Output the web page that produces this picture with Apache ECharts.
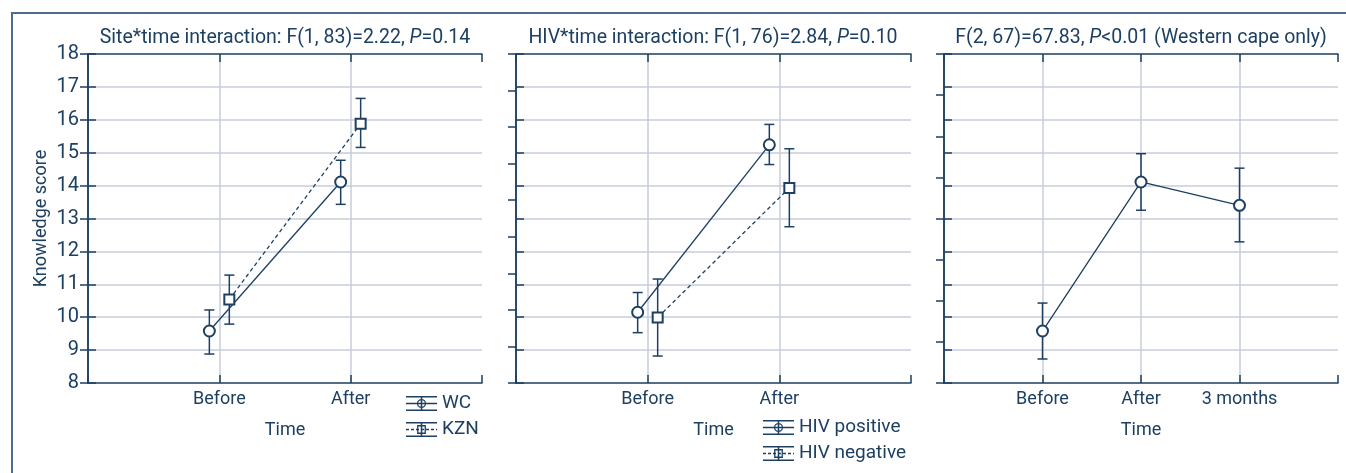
<!DOCTYPE html>
<html>
<head>
<meta charset="utf-8">
<script src="https://cdn.jsdelivr.net/npm/echarts@6/dist/echarts.min.js"></script>
<style>
  html, body { margin: 0; padding: 0; background: #fff; }
  #chart { width: 1346px; height: 473px; }
</style>
</head>
<body>
<div id="chart"></div>
<script>
// tick labels
const timeTwo = ['Before', 'After']
const timeThree = ['Before', 'After', '3 months']

// Site * time
const wcMean = [9.58, 14.11]
const wcLow = [8.88, 13.43]
const wcHigh = [10.22, 14.77]
const kznMean = [10.54, 15.88]
const kznLow = [9.79, 15.16]
const kznHigh = [11.28, 16.65]

// HIV * time
const hivPosMean = [10.15, 15.24]
const hivPosLow = [9.53, 14.64]
const hivPosHigh = [10.75, 15.86]
const hivNegMean = [9.99, 13.93]
const hivNegLow = [8.82, 12.75]
const hivNegHigh = [11.16, 15.12]

// Western cape only
const wcOnlyMean = [9.58, 14.11, 13.40]
const wcOnlyLow = [8.73, 13.25, 12.29]
const wcOnlyHigh = [10.43, 14.97, 14.53]

const NAVY = '#1d3f62'
const GRID = '#c6cddb'
const FONT = 'Roboto'
const DODGE = 0.076

const chart = echarts.init(document.getElementById('chart'))

const rect = (x, y, w, h) => `M${x} ${y}h${w}v${h}h${-w}Z`
const ring = (cx, cy, r, t) =>
  `M${cx - r} ${cy}A${r} ${r} 0 1 1 ${cx + r} ${cy}A${r} ${r} 0 1 1 ${cx - r} ${cy}Z` +
  `M${cx - r + t} ${cy}A${r - t} ${r - t} 0 1 0 ${cx + r - t} ${cy}A${r - t} ${r - t} 0 1 0 ${cx - r + t} ${cy}Z`
const box = (cx, cy, r, t) =>
  rect(cx - r, cy - r, 2 * r, 2 * r) +
  `M${cx - r + t} ${cy - r + t}v${2 * (r - t)}h${2 * (r - t)}v${-2 * (r - t)}Z`
const frame = rect(0, 0, 31, 1.5) + rect(0, 13.5, 31, 1.5) + rect(14.75, 0, 1.5, 15)
const solidMid = rect(0, 6.75, 31, 1.5)
let dashMid = ''
for (let x = 0; x < 31; x += 5) dashMid += rect(x, 6.75, Math.min(3, 31 - x), 1.5)
const iconCircle = 'path://' + frame + solidMid + ring(15.5, 7.5, 4.6, 1.3)
const iconSquare = 'path://' + frame + dashMid + box(15.5, 7.5, 4.4, 1.3)

const label = (arr) => (v) => arr[v - 1] || ''

const xPair = (labels, gridIndex, max, withName) => [
  {
    type: 'value', gridIndex, min: 0, max, interval: 1, position: 'bottom',
    name: withName ? 'Time' : '', nameLocation: 'middle', nameGap: 38,
    nameTextStyle: { color: NAVY, fontFamily: FONT, fontSize: 18 },
    axisLine: { show: true, lineStyle: { color: NAVY, width: 1.5 } },
    axisTick: { inside: true, length: 8, lineStyle: { color: NAVY, width: 1.5 } },
    axisLabel: { formatter: label(labels), color: NAVY, fontFamily: FONT, fontSize: 18, margin: 7 },
    splitLine: { show: true, showMinLine: false, showMaxLine: false, lineStyle: { color: GRID, width: 1.5 } },
  },
  {
    type: 'value', gridIndex, min: 0, max, interval: 1, position: 'top',
    axisLine: { show: true, lineStyle: { color: NAVY, width: 1.5 } },
    axisTick: { inside: true, length: 8, lineStyle: { color: NAVY, width: 1.5 } },
    axisLabel: { show: false },
    splitLine: { show: false },
  },
]

const yPair = (gridIndex, withLabels, rightMax) => [
  {
    type: 'value', gridIndex, min: 8, max: 18, interval: 1, position: 'left',
    name: withLabels ? 'Knowledge score' : '', nameLocation: 'middle', nameGap: 38,
    nameTextStyle: { color: NAVY, fontFamily: FONT, fontSize: 18 },
    axisLine: { show: true, lineStyle: { color: NAVY, width: 1.5 } },
    axisTick: { inside: true, length: 8, lineStyle: { color: NAVY, width: 1.5 } },
    axisLabel: { show: withLabels, color: NAVY, fontFamily: FONT, fontSize: 20, margin: 9 },
    splitLine: { show: true, showMinLine: false, showMaxLine: false, lineStyle: { color: GRID, width: 1.5 } },
  },
  {
    type: 'value', gridIndex, min: rightMax ? 0 : 8, max: rightMax || 18, interval: 1, position: 'right',
    axisLine: { show: true, lineStyle: { color: NAVY, width: 1.5 } },
    axisTick: { inside: true, length: 8, lineStyle: { color: NAVY, width: 1.5 } },
    axisLabel: { show: false },
    splitLine: { show: false },
  },
]

const lineSeries = (name, axis, offset, mean, dashed) => ({
  type: 'line', name, xAxisIndex: axis, yAxisIndex: axis,
  data: mean.map((v, i) => [i + 1 + offset, v]),
  symbol: dashed ? 'emptyRect' : 'emptyCircle',
  symbolSize: dashed ? 10 : 11,
  itemStyle: { color: NAVY, borderWidth: 1.3 },
  lineStyle: { color: NAVY, width: 1.3, type: dashed ? [4, 3] : 'solid' },
  z: 4, silent: true, animation: false,
})

const errorSeries = (axis, offset, low, high) => ({
  type: 'custom', xAxisIndex: axis, yAxisIndex: axis,
  data: low.map((v, i) => [i + 1 + offset, v, high[i]]),
  encode: { x: 0, y: [1, 2] },
  renderItem: (params, api) => {
    const lo = api.coord([api.value(0), api.value(1)])
    const hi = api.coord([api.value(0), api.value(2)])
    const style = { stroke: NAVY, lineWidth: 1.5 }
    const w = 5
    return {
      type: 'group',
      children: [
        { type: 'line', shape: { x1: lo[0], y1: lo[1], x2: hi[0], y2: hi[1] }, style },
        { type: 'line', shape: { x1: lo[0] - w, y1: lo[1], x2: lo[0] + w, y2: lo[1] }, style },
        { type: 'line', shape: { x1: hi[0] - w, y1: hi[1], x2: hi[0] + w, y2: hi[1] }, style },
      ],
    }
  },
  z: 2, silent: true, animation: false,
})

const titleStyle = {
  color: NAVY, fontFamily: FONT, fontSize: 19.5, fontWeight: 'normal',
  rich: { i: { fontStyle: 'italic', color: NAVY, fontFamily: FONT, fontSize: 19.5 } },
}

const legendStyle = {
  orient: 'vertical', itemWidth: 31, itemHeight: 15, itemGap: 7, padding: 0,
  textStyle: { color: NAVY, fontFamily: FONT, fontSize: 19 },
  itemStyle: { color: NAVY, borderWidth: 0 },
  selectedMode: false,
}

chart.setOption({
  animation: false,
  title: [
    { text: 'Site*time interaction: F(1, 83)=2.22, {i|P}=0.14', left: 285, top: 28, padding: 0, textAlign: 'center', textStyle: titleStyle },
    { text: 'HIV*time interaction: F(1, 76)=2.84, {i|P}=0.10', left: 713, top: 28, padding: 0, textAlign: 'center', textStyle: titleStyle },
    { text: 'F(2, 67)=67.83, {i|P}<0.01 (Western cape only)', left: 1141, top: 28, padding: 0, textAlign: 'center', textStyle: titleStyle },
  ],
  graphic: [
    { type: 'rect', shape: { x: 12, y: 13, width: 1500, height: 600 }, style: { fill: 'none', stroke: '#4e6d8b', lineWidth: 2 }, silent: true },
  ],
  legend: [
    {
      ...legendStyle, left: 406, top: 394,
      data: [{ name: 'WC', icon: iconCircle }, { name: 'KZN', icon: iconSquare }],
    },
    {
      ...legendStyle, left: 763, top: 418,
      data: [{ name: 'HIV positive', icon: iconCircle }, { name: 'HIV negative', icon: iconSquare }],
    },
  ],
  grid: [
    { left: 88, top: 54, width: 394, height: 329 },
    { left: 516, top: 54, width: 395, height: 329 },
    { left: 944, top: 54, width: 394, height: 329 },
  ],
  xAxis: [
    ...xPair(timeTwo, 0, 3, true),
    ...xPair(timeTwo, 1, 3, true),
    ...xPair(timeThree, 2, 4, true),
  ],
  yAxis: [
    ...yPair(0, true, 0),
    ...yPair(1, false, 9),
    ...yPair(2, false, 8),
  ],
  series: [
    errorSeries(0, -DODGE, wcLow, wcHigh),
    errorSeries(0, DODGE, kznLow, kznHigh),
    lineSeries('WC', 0, -DODGE, wcMean, false),
    lineSeries('KZN', 0, DODGE, kznMean, true),
    errorSeries(2, -DODGE, hivPosLow, hivPosHigh),
    errorSeries(2, DODGE, hivNegLow, hivNegHigh),
    lineSeries('HIV positive', 2, -DODGE, hivPosMean, false),
    lineSeries('HIV negative', 2, DODGE, hivNegMean, true),
    errorSeries(4, 0, wcOnlyLow, wcOnlyHigh),
    lineSeries('Western cape', 4, 0, wcOnlyMean, false),
  ],
})
</script>
</body>
</html>
